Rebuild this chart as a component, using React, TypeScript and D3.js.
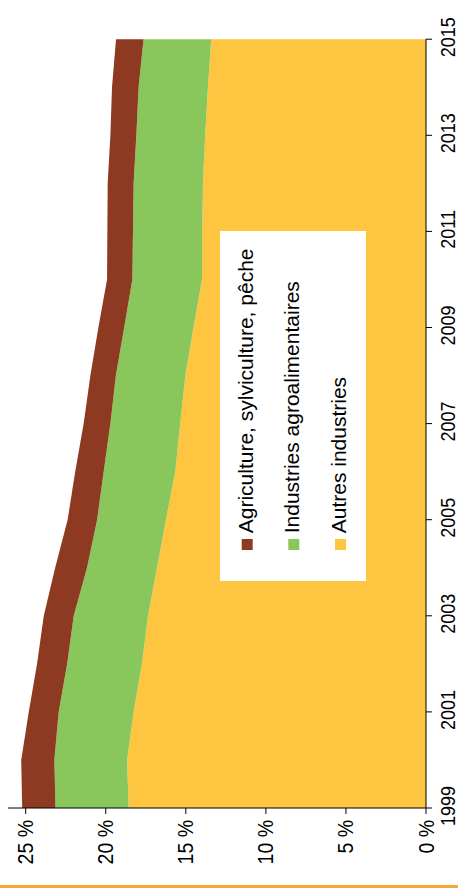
import React from "react";
import * as d3 from "d3";

const years = [1999, 2000, 2001, 2002, 2003, 2004, 2005, 2006, 2007, 2008, 2009, 2010, 2011, 2012, 2013, 2014, 2015];
const autres = [18.57, 18.67, 18.26, 17.74, 17.36, 16.8, 16.24, 15.66, 15.35, 15.03, 14.52, 13.99, 13.97, 13.93, 13.79, 13.62, 13.41];
const agro = [4.57, 4.54, 4.68, 4.67, 4.64, 4.37, 4.3, 4.47, 4.36, 4.34, 4.33, 4.35, 4.33, 4.33, 4.3, 4.33, 4.23];
const agri = [2.08, 2.07, 1.87, 1.88, 1.87, 1.99, 1.84, 1.78, 1.67, 1.59, 1.61, 1.58, 1.6, 1.62, 1.62, 1.66, 1.72];

const seriesKeys = ["autres", "agro", "agri"];
const seriesNames = ["Autres industries", "Industries agroalimentaires", "Agriculture, sylviculture, pêche"];
const seriesColors = ["#FEC640", "#89C65B", "#8E3A22"];

const yearTicks = [1999, 2001, 2003, 2005, 2007, 2009, 2011, 2013, 2015];
const valueTicks = [0, 5, 10, 15, 20, 25];
const valueLabels = ["0 %", "5 %", "10 %", "15 %", "20 %", "25 %"];

const legendOrder = [2, 1, 0];

const FONT = "'Liberation Sans', Arial, sans-serif";

export default function App() {
  const x = d3.scaleLinear().domain([0, 25]).range([426, 25.7]);
  const y = d3.scaleLinear().domain([1999, 2015]).range([808, 39.2]);

  const rows = years.map((yr, i) => ({ year: yr, autres: autres[i], agro: agro[i], agri: agri[i] }));
  const stacked = d3.stack<any>().keys(seriesKeys)(rows);
  const area = d3
    .area<any>()
    .y((d) => y(d.data.year))
    .x0((d) => x(d[0]))
    .x1((d) => x(d[1]));

  const legendX = [252.7, 299.3, 346];

  return (
    <svg
      width={458}
      height={888}
      style={{ position: "absolute", left: 0, top: 0, background: "#fff" }}
      fontFamily={FONT}
    >
      {stacked.map((s, i) => (
        <path key={seriesKeys[i]} d={area(s) || ""} fill={seriesColors[i]} />
      ))}

      {/* legend */}
      <rect x={220} y={231} width={146} height={350} fill="#fff" />
      {legendOrder.map((si, k) => (
        <g key={si}>
          <rect x={legendX[k] - 11} y={539} width={11} height={11} fill={seriesColors[si]} />
          <text
            transform={`translate(${legendX[k]},533.3) rotate(-90)`}
            fontSize={21}
            fill="#000"
          >
            {seriesNames[si]}
          </text>
        </g>
      ))}

      {/* year axis */}
      <line x1={426} x2={426} y1={y(2015)} y2={y(1999)} stroke="#000" strokeWidth={1} />
      {yearTicks.map((yr) => (
        <g key={yr}>
          <line x1={426} x2={432} y1={y(yr)} y2={y(yr)} stroke="#000" strokeWidth={1} />
          <text
            transform={`translate(455,${y(yr) - 2}) rotate(-90) scale(1,1.08)`}
            fontSize={18}
            textAnchor="middle"
            fill="#000"
          >
            {yr}
          </text>
        </g>
      ))}

      {/* value axis */}
      <line x1={8} x2={426} y1={808} y2={808} stroke="#000" strokeWidth={1} />
      {valueTicks.map((v, i) => (
        <g key={v}>
          <line x1={x(v)} x2={x(v)} y1={808} y2={814} stroke="#000" strokeWidth={1} />
          <text
            transform={`translate(${x(v) + 7.5},820) rotate(-90) scale(1,1.17)`}
            fontSize={19.5}
            textAnchor="end"
            fill="#000"
          >
            {valueLabels[i]}
          </text>
        </g>
      ))}

      <rect x={0} y={885} width={458} height={3} fill="#F7A738" />
    </svg>
  );
}
